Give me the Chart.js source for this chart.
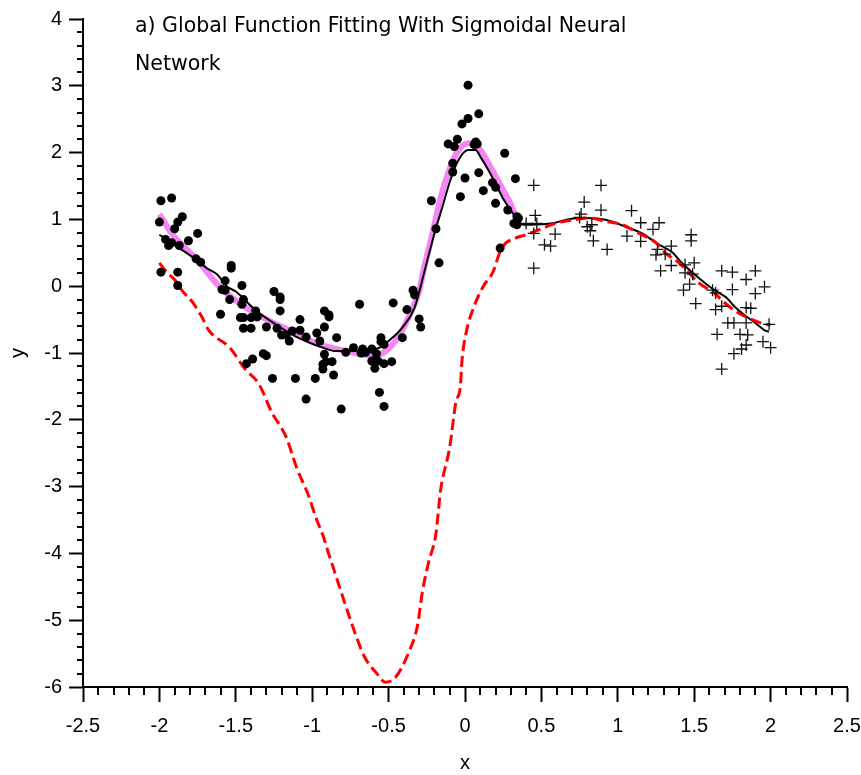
<!DOCTYPE html>
<html>
<head>
<meta charset="utf-8">
<script src="https://cdn.jsdelivr.net/npm/chart.js@4.4.1/dist/chart.umd.min.js"></script>
<style>
  html, body { margin: 0; padding: 0; background: #fff; }
</style>
</head>
<body>
<canvas id="fitChart" width="861" height="775"></canvas>
<script>
// training samples (dots) and test samples (crosses)
var dotX = [-1.99, -1.92, -1.85, -2.00, -1.88, -1.90, -1.75, -1.96, -1.94, -1.92, -1.87, -1.81, -1.76, -1.73, -1.99, -1.88, -1.88,
  -1.53, -1.53, -1.57, -1.46, -1.59, -1.57, -1.54, -1.45, -1.46, -1.25, -1.21, -1.21, -1.21, -1.37, -1.47, -1.45, -1.40, -1.36,
  -1.45, -1.40, -1.60, -1.30, -1.23, -1.08, -1.13, -1.08, -1.20, -1.17, -1.15, -1.04, -0.97, -0.95, -0.92, -0.92, -0.89, -0.89,
  -0.92, -0.93, -0.93, -0.91, -0.87, -0.86, -1.32, -1.30, -1.39, -1.43, -1.26, -1.11, -0.98, -1.04, -0.81, -0.56, -0.53,
  -0.69, -0.47, -0.84, -0.78, -0.73, -0.67, -0.68, -0.65, -0.61, -0.58, -0.55, -0.55, -0.53, -0.61, -0.57, -0.59, -0.53, -0.48,
  -0.41, -0.38, -0.34, -0.33, -0.30, -0.29, -0.17, -0.19, -0.22, 0.02, 0.09, 0.02, -0.02, -0.11, -0.07, -0.05, 0.06, 0.07, 0.08,
  0.26, -0.08, -0.08, 0.00, 0.09, 0.33, -0.03, 0.12, 0.18, 0.20, 0.20, 0.28, 0.34, 0.35, 0.32, 0.34, 0.23];
var dotY = [1.28, 1.32, 1.04, 0.96, 0.96, 0.86, 0.79, 0.70, 0.61, 0.65, 0.61, 0.68, 0.41, 0.36, 0.21, 0.21, 0.01,
  0.31, 0.27, 0.08, 0.01, -0.05, -0.06, -0.20, -0.20, -0.27, -0.08, -0.16, -0.20, -0.37, -0.37, -0.47, -0.47, -0.47, -0.46,
  -0.63, -0.63, -0.42, -0.61, -0.63, -0.50, -0.67, -0.66, -0.73, -0.73, -0.82, -0.76, -0.70, -0.82, -0.61, -0.37, -0.43, -0.46,
  -1.02, -1.17, -1.24, -1.13, -1.13, -1.33, -1.01, -1.04, -1.09, -1.16, -1.38, -1.38, -1.38, -1.69, -1.84, -1.59, -1.80,
  -0.27, -0.25, -0.77, -0.99, -0.92, -0.94, -1.00, -0.99, -0.94, -1.01, -0.77, -0.83, -0.87, -1.12, -1.12, -1.23, -1.16, -1.13,
  -0.77, -0.35, -0.06, -0.13, -0.49, -0.61, 0.35, 0.86, 1.28, 3.01, 2.58, 2.51, 2.43, 2.13, 2.09, 2.20, 2.12, 2.16, 2.13,
  1.99, 1.84, 1.71, 1.62, 1.70, 1.61, 1.34, 1.43, 1.55, 1.48, 1.24, 1.14, 1.04, 1.02, 0.94, 0.92, 0.57];

var crossX = [0.45, 0.89, 0.78, 0.89, 1.09, 0.76, 0.75, 0.46, 0.47, 1.15, 1.27, 1.23, 0.80, 0.83, 0.82, 0.59, 0.45, 0.52, 0.56,
  0.84, 1.06, 1.15, 0.93, 1.26, 1.25, 1.31, 0.45, 1.28, 0.40, 1.48, 1.48, 1.35, 1.35, 1.44, 1.50, 1.44, 1.49, 1.47, 1.43, 1.51,
  1.68, 1.75, 1.90, 1.84, 1.96, 1.75, 1.90, 1.62, 1.64, 1.64, 1.68, 1.84, 1.87, 1.72, 1.76, 1.84, 1.99, 1.65, 1.80, 1.85, 1.95,
  2.00, 1.84, 1.81, 1.76, 1.68];
var crossY = [1.51, 1.51, 1.26, 1.14, 1.13, 1.08, 1.03, 1.06, 0.94, 0.95, 0.95, 0.85, 0.89, 0.92, 0.83, 0.78, 0.79, 0.62, 0.60,
  0.68, 0.75, 0.67, 0.55, 0.55, 0.47, 0.48, 0.27, 0.23, 0.94, 0.77, 0.68, 0.60, 0.31, 0.32, 0.35, 0.20, 0.18, 0.03, -0.06, -0.26,
  0.23, 0.21, 0.23, 0.10, -0.01, -0.05, -0.11, -0.06, -0.10, -0.35, -0.30, -0.32, -0.33, -0.55, -0.55, -0.55, -0.57, -0.72, -0.72, -0.73, -0.83,
  -0.92, -0.88, -0.94, -1.01, -1.24];

// target function (pink), network fit (black), red dashed curve
var pinkX = [-2.00, -1.92, -1.76, -1.61, -1.48, -1.28, -1.11, -0.98, -0.78, -0.61, -0.53, -0.44, -0.35, -0.30, -0.27, -0.21,
  -0.16, -0.10, -0.05, 0.02, 0.09, 0.16, 0.22, 0.29, 0.33, 0.35];
var pinkY = [1.08, 0.79, 0.41, 0.00, -0.25, -0.52, -0.70, -0.85, -0.97, -1.04, -0.99, -0.77, -0.37, -0.07, 0.25, 0.82,
  1.32, 1.76, 2.01, 2.14, 2.07, 1.81, 1.56, 1.27, 1.07, 1.02];

var blackX = [-2.00, -1.93, -1.87, -1.76, -1.69, -1.62, -1.56, -1.50, -1.37, -1.24, -1.11, -0.93, -0.85, -0.65, -0.56, -0.50,
  -0.41, -0.33, -0.26, -0.19, -0.15, -0.10, -0.05, 0.02, 0.07, 0.10, 0.16, 0.21, 0.26, 0.32, 0.38, 0.53, 0.59, 0.67, 0.77, 0.88,
  0.96, 1.05, 1.16, 1.25, 1.36, 1.41, 1.49, 1.58, 1.64, 1.71, 1.77, 1.84, 1.90, 1.97, 1.99];
var blackY = [0.77, 0.67, 0.57, 0.40, 0.27, 0.17, 0.00, -0.08, -0.36, -0.57, -0.75, -0.92, -0.97, -0.97, -0.92, -0.82,
  -0.62, -0.32, 0.27, 0.87, 1.17, 1.56, 1.86, 2.04, 2.04, 1.94, 1.71, 1.49, 1.27, 1.07, 0.92, 0.93, 0.95, 1.00, 1.02, 1.01,
  0.97, 0.89, 0.79, 0.65, 0.50, 0.37, 0.20, 0.03, -0.07, -0.17, -0.32, -0.45, -0.55, -0.67, -0.68];

var redX = [-2.00, -1.96, -1.89, -1.85, -1.78, -1.72, -1.68, -1.54, -1.44, -1.35, -1.26, -1.21, -1.17, -1.10, -1.03, -0.97,
  -0.93, -0.89, -0.84, -0.78, -0.72, -0.66, -0.58, -0.52, -0.45, -0.37, -0.31, -0.28, -0.24, -0.19, -0.16, -0.10, -0.06, -0.03,
  -0.02, 0.01, 0.06, 0.12, 0.18, 0.24, 0.33, 0.40, 0.51, 0.59, 0.70, 0.81, 0.92, 1.03, 1.14, 1.25, 1.31, 1.40, 1.53, 1.64, 1.71,
  1.79, 1.88, 1.95, 2.00];
var redY = [0.35, 0.23, 0.07, -0.07, -0.25, -0.47, -0.65, -0.92, -1.24, -1.46, -1.91, -2.09, -2.26, -2.73, -3.10, -3.50,
  -3.73, -4.02, -4.37, -4.79, -5.19, -5.54, -5.79, -5.93, -5.84, -5.49, -5.07, -4.59, -4.15, -3.70, -3.06, -2.41, -1.74, -1.49,
  -1.12, -0.67, -0.30, 0.00, 0.20, 0.57, 0.72, 0.77, 0.87, 0.94, 0.99, 1.02, 0.97, 0.92, 0.79, 0.65, 0.50, 0.35, 0.05, -0.12, -0.27,
  -0.40, -0.50, -0.56, -0.58];

var titleLines = ['a) Global Function Fitting With Sigmoidal Neural', 'Network'];

function toPoints(xs, ys) {
  return xs.map(function(x, i) { return { x: x, y: ys[i] }; });
}

// small ticks between the labelled ones
var minorTicks = {
  id: 'minorTicks',
  afterDraw: function(chart) {
    var ctx = chart.ctx, xs = chart.scales.x, ys = chart.scales.y, area = chart.chartArea;
    ctx.save();
    ctx.strokeStyle = '#000';
    ctx.lineWidth = 2;
    ctx.beginPath();
    for (var i = -25; i <= 25; i++) {
      if (i % 5 === 0) continue;
      var px = Math.round(xs.getPixelForValue(i / 10));
      ctx.moveTo(px, area.bottom);
      ctx.lineTo(px, area.bottom + 8);
    }
    for (var j = -30; j <= 20; j++) {
      if (j % 5 === 0) continue;
      var py = Math.round(ys.getPixelForValue(j / 5));
      ctx.moveTo(area.left, py);
      ctx.lineTo(area.left - 6, py);
    }
    ctx.stroke();
    ctx.restore();
  }
};

// title sits inside the plot area, top left
var innerTitle = {
  id: 'innerTitle',
  afterDraw: function(chart) {
    var ctx = chart.ctx, area = chart.chartArea;
    ctx.save();
    ctx.fillStyle = '#000';
    ctx.font = '20.5px "DejaVu Sans"';
    ctx.textAlign = 'left';
    ctx.textBaseline = 'alphabetic';
    ctx.fillText(titleLines[0], area.left + 52, area.top + 13);
    ctx.fillText(titleLines[1], area.left + 52, area.top + 51);
    ctx.restore();
  }
};

var tickFont = { family: '"Liberation Sans", Arial, sans-serif', size: 20 };
var axisTitleFont = { family: '"Liberation Sans", Arial, sans-serif', size: 20 };

function plainNumber(v) {
  return String(Math.round(v * 10) / 10);
}

new Chart(document.getElementById('fitChart').getContext('2d'), {
  type: 'scatter',
  data: {
    datasets: [
      {
        label: 'test',
        data: toPoints(crossX, crossY),
        pointStyle: 'cross',
        pointRadius: 6,
        borderColor: '#111',
        borderWidth: 1.3
      },
      {
        label: 'train',
        data: toPoints(dotX, dotY),
        pointStyle: 'circle',
        pointRadius: 4.5,
        backgroundColor: '#000',
        borderWidth: 0
      },
      {
        label: 'red',
        data: toPoints(redX, redY),
        showLine: true,
        pointRadius: 0,
        borderColor: '#ff0000',
        borderWidth: 3,
        borderDash: [11, 5],
        cubicInterpolationMode: 'monotone'
      },
      {
        label: 'fit',
        data: toPoints(blackX, blackY),
        showLine: true,
        pointRadius: 0,
        borderColor: '#000',
        borderWidth: 2,
        cubicInterpolationMode: 'monotone'
      },
      {
        label: 'target',
        data: toPoints(pinkX, pinkY),
        showLine: true,
        pointRadius: 0,
        borderColor: '#f585f5',
        borderWidth: 6,
        cubicInterpolationMode: 'monotone'
      }
    ]
  },
  options: {
    responsive: false,
    animation: false,
    layout: { padding: { left: 0, top: 16, right: 14, bottom: 0 } },
    plugins: {
      legend: { display: false },
      tooltip: { enabled: false }
    },
    scales: {
      x: {
        type: 'linear',
        min: -2.5,
        max: 2.5,
        afterFit: function(scale) {
          scale.height = 88;
          scale.paddingLeft = 0;
          scale.paddingRight = 0;
        },
        border: { display: true, color: '#000', width: 2 },
        grid: { drawOnChartArea: false, drawTicks: true, tickLength: 15, tickWidth: 2, tickColor: '#000' },
        ticks: { stepSize: 0.5, padding: 12, color: '#000', font: tickFont, maxRotation: 0, autoSkip: false, callback: plainNumber },
        title: { display: true, text: 'x', color: '#000', font: axisTitleFont, padding: { top: 0, bottom: 0 } }
      },
      y: {
        type: 'linear',
        min: -6,
        max: 4,
        afterFit: function(scale) {
          scale.width = 83;
        },
        border: { display: true, color: '#000', width: 2 },
        grid: { drawOnChartArea: false, drawTicks: true, tickLength: 14, tickWidth: 2, tickColor: '#000' },
        ticks: { stepSize: 1, padding: 7, color: '#000', font: tickFont, callback: plainNumber },
        title: { display: true, text: 'y', color: '#000', font: axisTitleFont, padding: { top: 6, bottom: 0 } }
      }
    }
  },
  plugins: [minorTicks, innerTitle]
});
</script>
</body>
</html>
